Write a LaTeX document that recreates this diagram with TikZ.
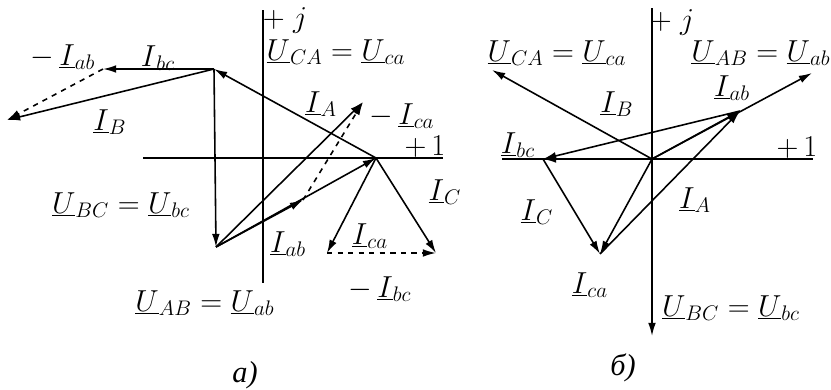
\documentclass[tikz,border=0pt]{standalone}
\usepackage{fontspec}
\newfontfamily\cyrfont{Liberation Serif}
\usetikzlibrary{arrows.meta}

\begin{document}
\begin{tikzpicture}[x=0.02cm, y=-0.02cm, >={Latex[length=7.5pt,width=4.4pt]}, line width=0.9pt, font=\LARGE]
\useasboundingbox (0,0) rectangle (831,389);
% a)
\coordinate (ajtop) at (263,10);
\coordinate (ajbot) at (263,283);
\coordinate (aleft) at (143,158);
\coordinate (aright) at (443,158);
\coordinate (vA) at (376,158);
\coordinate (vB) at (216,247);
\coordinate (vC) at (214,69);
\coordinate (tab) at (303,200);
\coordinate (tA) at (363,102);
\coordinate (tbc) at (103,69);
\coordinate (tB) at (7,120);
\coordinate (tca) at (327,253);
\coordinate (tC) at (436,253);
\draw (ajtop) -- (ajbot);
\draw (aleft) -- (aright);
\draw [->] (vA) -- (vC);
\draw [->] (vC) -- (vB);
\draw [->] (vB) -- (vA);
\draw [->] (vB) -- (tab);
\draw [->] (vB) -- (tA);
\draw [->, dashed] (tab) -- (tA);
\draw [->] (vC) -- (tbc);
\draw [->] (vC) -- (tB);
\draw [->, dashed] (tbc) -- (tB);
\draw [->] (vA) -- (tca);
\draw [->] (vA) -- (tC);
\draw [->, dashed] (tca) -- (tC);
\node (laj) at (285,20) {$+\;j$};
\node (la1) at (425,147) {$+\,1$};
\node (laUCA) at (336,52) {$\underline{U}_{CA}=\underline{U}_{ca}$};
\node (laUBC) at (121,205) {$\underline{U}_{BC}=\underline{U}_{bc}$};
\node (laUAB) at (205,303) {$\underline{U}_{AB}=\underline{U}_{ab}$};
\node (lamab) at (63,57) {$-\,\underline{I}_{ab}$};
\node (labc) at (158,58) {$\underline{I}_{bc}$};
\node (laB) at (110,122) {$\underline{I}_{B}$};
\node (laA) at (321,104) {$\underline{I}_{A}$};
\node (lamca) at (402,116) {$-\,\underline{I}_{ca}$};
\node (laC) at (445,192) {$\underline{I}_{C}$};
\node (laab) at (288,244) {$\underline{I}_{ab}$};
\node (laca) at (370,236) {$\underline{I}_{ca}$};
\node (lambc) at (380,289) {$-\,\underline{I}_{bc}$};
\node (lacap) at (245,375) {\cyrfont\itshape а)};
% b)
\coordinate (bjtop) at (652,8);
\coordinate (bleft) at (502,159);
\coordinate (bright) at (813,159);
\coordinate (bO) at (652,159);
\coordinate (bCA) at (492,70);
\coordinate (bAB) at (812,73);
\coordinate (bBC) at (652,336);
\coordinate (bab) at (740,111);
\coordinate (bbc) at (543,159);
\coordinate (bca) at (600,254);
\draw (bjtop) -- (bO);
\draw (bleft) -- (bright);
\draw [->] (bO) -- (bCA);
\draw [->] (bO) -- (bAB);
\draw [->] (bO) -- (bBC);
\draw [->] (bO) -- (bab);
\draw [->] (bO) -- (bbc);
\draw [->] (bO) -- (bca);
\draw [->] (bab) -- (bbc);
\draw [->] (bbc) -- (bca);
\draw [->] (bca) -- (bab);
\node (lbj) at (672,22) {$+\;j$};
\node (lb1) at (797,148) {$+\,1$};
\node (lbUCA) at (557,53) {$\underline{U}_{CA}=\underline{U}_{ca}$};
\node (lbUAB) at (761,53) {$\underline{U}_{AB}=\underline{U}_{ab}$};
\node (lbUBC) at (731,308) {$\underline{U}_{BC}=\underline{U}_{bc}$};
\node (lbab) at (732,88) {$\underline{I}_{ab}$};
\node (lbB) at (617,104) {$\underline{I}_{B}$};
\node (lbbc) at (518,145) {$\underline{I}_{bc}$};
\node (lbC) at (537,212) {$\underline{I}_{C}$};
\node (lbA) at (695,200) {$\underline{I}_{A}$};
\node (lbca) at (590,285) {$\underline{I}_{ca}$};
\node (lbcap) at (623,368) {\cyrfont\itshape б)};
\end{tikzpicture}
\end{document}
